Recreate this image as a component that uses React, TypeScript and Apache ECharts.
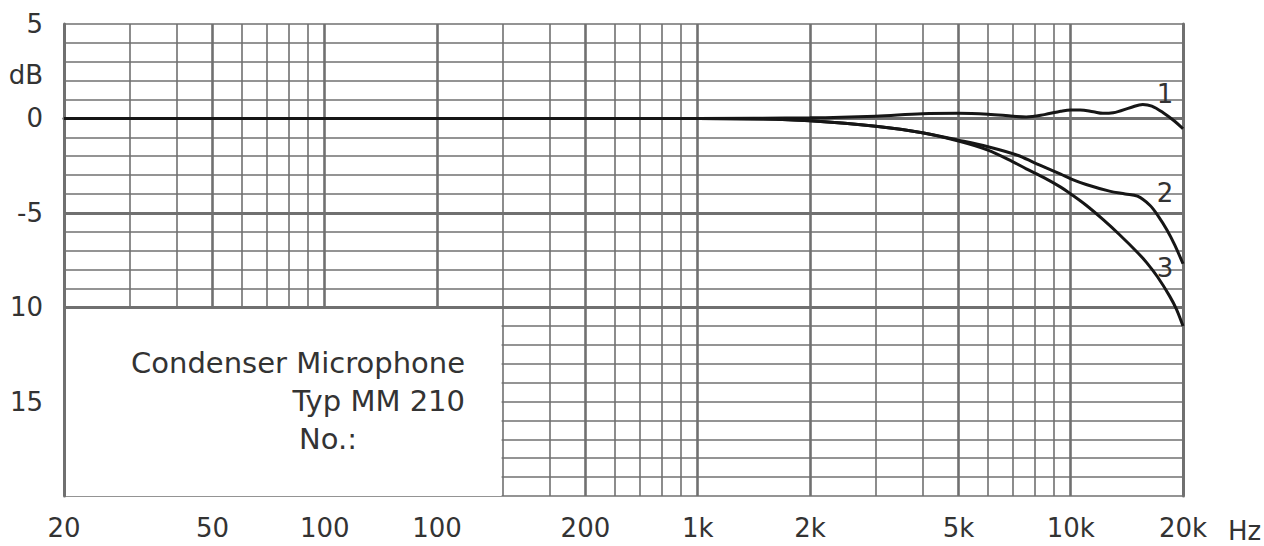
import React, { useEffect, useRef } from 'react';
import * as echarts from 'echarts';

// ---- axis definitions ----
const majorFreqs = [20, 50, 100, 200, 500, 1000, 2000, 5000, 10000, 20000];
const majorLabels = ['20', '50', '100', '100', '200', '1k', '2k', '5k', '10k', '20k'];
const minorFreqs = [30, 40, 60, 70, 80, 90, 300, 400, 600, 700, 800, 900, 3000, 4000, 6000, 7000, 8000, 9000];
const dbMajorLines = [0, -5, -10];
const yLabelValues = [5, 2.3, 0, -5, -10, -15];
const yLabelTexts = ['5', 'dB', '0', '-5', '10', '15'];
const xUnit = 'Hz';

// ---- curves (frequency in Hz, level in dB) ----
const curve1Freq = [20, 1000, 2000, 3000, 4000, 5000, 6000, 7000, 7600, 8500, 9400, 10000, 10600, 11500, 12200, 13000, 14500, 15600, 16500, 17700, 19000, 20000];
const curve1Db = [0, 0, 0.03, 0.12, 0.25, 0.27, 0.22, 0.12, 0.08, 0.2, 0.38, 0.45, 0.45, 0.35, 0.27, 0.3, 0.58, 0.74, 0.65, 0.3, -0.15, -0.55];

const curve2Freq = [20, 1000, 1500, 2000, 3000, 4000, 5000, 6000, 7200, 8000, 9400, 10000, 11000, 12700, 14000, 15100, 16300, 17200, 18100, 19000, 20000];
const curve2Db = [0, 0, -0.03, -0.13, -0.42, -0.76, -1.15, -1.5, -1.95, -2.35, -2.95, -3.2, -3.5, -3.85, -4.0, -4.12, -4.6, -5.2, -5.9, -6.7, -7.7];

const curve3Freq = [20, 1000, 1500, 2000, 3000, 4000, 5000, 6000, 7000, 7600, 8500, 9400, 10000, 11000, 12200, 13500, 15100, 16000, 17100, 18400, 19200, 20000];
const curve3Db = [0, 0, -0.03, -0.13, -0.42, -0.76, -1.2, -1.68, -2.3, -2.67, -3.15, -3.64, -4.0, -4.6, -5.35, -6.15, -7.1, -7.65, -8.4, -9.4, -10.1, -11.0];

const curveNames = ['1', '2', '3'];
const curveLabelFreq = [17900, 17900, 17900];
const curveLabelDb = [1.27, -3.93, -7.9];

// legend box (lower-left panel)
const boxFreq = [20, 298];
const boxDb = [-20, -10.1];
const boxLines = ['Condenser Microphone', 'Typ MM 210', 'No.:'];

const GRID = '#707070';
const INK = '#161616';
const TEXT = '#333333';
const FONT = 'DejaVu Sans';
const WEIGHT = 'normal';

const zip = (f: number[], d: number[]) => f.map((v, i) => [v, d[i]]);

export default function App() {
  const ref = useRef<HTMLDivElement>(null);
  useEffect(() => {
    if (!ref.current) return;
    const chart = echarts.init(ref.current, undefined, { renderer: 'svg' });
    const xBase = { type: 'log', logBase: 10, min: 20, max: 20000, gridIndex: 0 };
    const yBase = { type: 'value', min: -20, max: 5 };
    const curves = [zip(curve1Freq, curve1Db), zip(curve2Freq, curve2Db), zip(curve3Freq, curve3Db)];
    const textStyle = (size: number) => ({ fontSize: size, fontFamily: FONT, fontWeight: WEIGHT });
    const option: any = {
      animation: false,
      backgroundColor: '#ffffff',
      grid: { left: 64, right: 81, top: 24, bottom: 50, show: false },
      xAxis: [
        {
          ...xBase,
          position: 'bottom',
          z: 0,
          axisLine: { show: false },
          axisTick: { show: false, customValues: majorFreqs.slice(1, -1) },
          axisLabel: {
            customValues: majorFreqs,
            margin: 19,
            color: TEXT,
            ...textStyle(26),
            formatter: (v: number) => {
              const i = majorFreqs.findIndex((f) => Math.abs(f - v) / f < 1e-4);
              return i >= 0 ? majorLabels[i] : '';
            },
          },
          splitLine: { show: true, lineStyle: { color: GRID, width: 2.6 } },
        },
        {
          ...xBase,
          position: 'bottom',
          z: 0,
          axisLine: { show: false },
          axisTick: { show: false, customValues: minorFreqs },
          axisLabel: { show: false },
          splitLine: { show: true, lineStyle: { color: GRID, width: 1.6 } },
        },
        {
          ...xBase,
          position: 'bottom',
          z: 5,
          axisLine: { show: true, lineStyle: { color: GRID, width: 3 } },
          axisTick: { show: false },
          axisLabel: { show: false },
          splitLine: { show: false },
        },
        {
          ...xBase,
          position: 'top',
          z: 5,
          axisLine: { show: true, lineStyle: { color: GRID, width: 3 } },
          axisTick: { show: false },
          axisLabel: { show: false },
          splitLine: { show: false },
        },
      ],
      yAxis: [
        {
          ...yBase,
          interval: 1,
          position: 'left',
          z: 0,
          axisLine: { show: false },
          axisTick: { show: false },
          axisLabel: {
            customValues: yLabelValues,
            margin: 21,
            color: TEXT,
            ...textStyle(26),
            formatter: (v: number) => {
              const i = yLabelValues.findIndex((y) => Math.abs(y - v) < 1e-6);
              return i >= 0 ? yLabelTexts[i] : '';
            },
          },
          splitLine: { show: true, lineStyle: { color: GRID, width: 1.6 } },
        },
        {
          ...yBase,
          position: 'left',
          z: 0,
          axisLine: { show: false },
          axisTick: { show: false, customValues: dbMajorLines },
          axisLabel: { show: false },
          splitLine: { show: true, lineStyle: { color: GRID, width: 2.8 } },
        },
        {
          ...yBase,
          position: 'left',
          z: 5,
          axisLine: { show: true, onZero: false, lineStyle: { color: GRID, width: 3 } },
          axisTick: { show: false },
          axisLabel: { show: false },
          splitLine: { show: false },
        },
        {
          ...yBase,
          position: 'right',
          z: 5,
          axisLine: { show: true, onZero: false, lineStyle: { color: GRID, width: 3 } },
          axisTick: { show: false },
          axisLabel: { show: false },
          splitLine: { show: false },
        },
      ],
      series: [
        {
          type: 'line',
          name: 'box',
          z: 1,
          xAxisIndex: 0,
          yAxisIndex: 0,
          data: [[boxFreq[0], boxDb[0]]],
          showSymbol: false,
          symbol: 'none',
          lineStyle: { width: 0 },
          silent: true,
          markArea: {
            silent: true,
            z: 1,
            itemStyle: { color: '#ffffff', borderWidth: 0, opacity: 1 },
            data: [[{ coord: [boxFreq[0], boxDb[0]] }, { coord: [boxFreq[1], boxDb[1]] }]],
          },
        },
        ...curves.map((data, k) => ({
          type: 'line',
          name: curveNames[k],
          z: 10,
          xAxisIndex: 0,
          yAxisIndex: 0,
          data,
          smooth: 0.35,
          symbol: 'none',
          showSymbol: false,
          lineStyle: { color: INK, width: 3 },
          markPoint: {
            symbol: 'circle',
            symbolSize: 0,
            silent: true,
            label: { show: true, position: 'inside', color: TEXT, ...textStyle(26), formatter: curveNames[k] },
            data: [{ coord: [curveLabelFreq[k], curveLabelDb[k]], value: curveNames[k] }],
          },
        })),
      ],
      graphic: [
        {
          type: 'text',
          x: 1228,
          y: 531,
          z: 20,
          style: { text: xUnit, fill: TEXT, ...textStyle(26), align: 'left', verticalAlign: 'middle' },
        },
        {
          type: 'text',
          x: 465,
          y: 363,
          z: 20,
          style: { text: boxLines[0], fill: TEXT, ...textStyle(29), align: 'right', verticalAlign: 'middle' },
        },
        {
          type: 'text',
          x: 465,
          y: 401,
          z: 20,
          style: { text: boxLines[1], fill: TEXT, ...textStyle(29), align: 'right', verticalAlign: 'middle' },
        },
        {
          type: 'text',
          x: 299,
          y: 439,
          z: 20,
          style: { text: boxLines[2], fill: TEXT, ...textStyle(29), align: 'left', verticalAlign: 'middle' },
        },
      ],
    };
    chart.setOption(option);
    return () => chart.dispose();
  }, []);
  return <div ref={ref} style={{ position: 'fixed', left: 0, top: 0, width: 1264, height: 546 }} />;
}
